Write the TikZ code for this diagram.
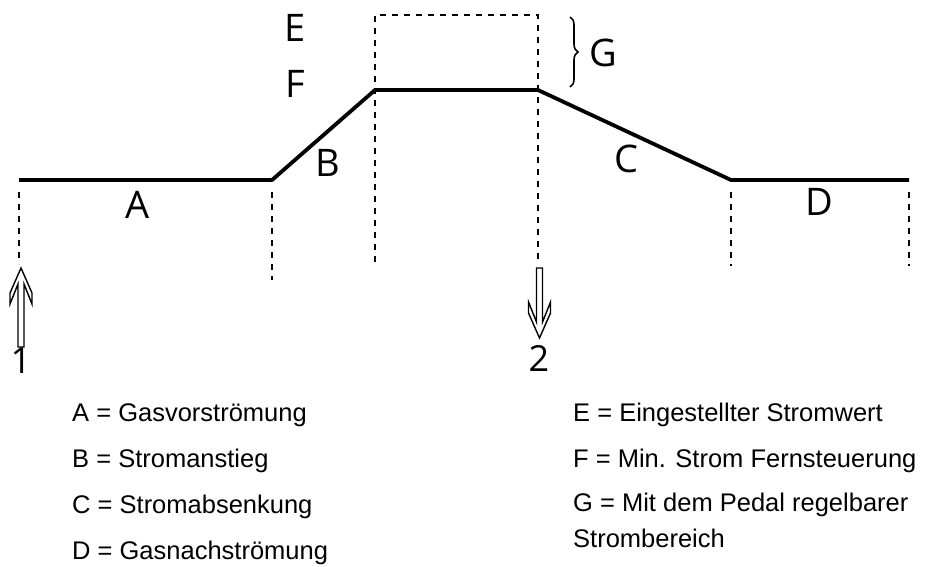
\documentclass[tikz,border=0pt]{standalone}
\usepackage{fontspec}
\setmainfont{Open Sans}
\newfontfamily\legfont{Liberation Sans}
\usetikzlibrary{decorations.pathreplacing}
\tikzset{
  curve/.style={line width=3.8pt, line join=round},
  guide/.style={line width=1.7pt, dash pattern=on 6pt off 6pt},
  lbl/.style={font=\fontsize{38}{40}\selectfont, inner sep=0pt},
  num/.style={font=\fontsize{36}{38}\selectfont, inner sep=0pt},
  leg/.style={font=\legfont\fontsize{25.5}{28}\selectfont, inner sep=0pt, anchor=base west},
  trig/.style={line width=1.4pt, line join=miter},
}
\begin{document}
\begin{tikzpicture}[x=1pt,y=-1pt]
\useasboundingbox (0,0) rectangle (927,566);
% key points of the current curve
\coordinate (p0) at (19,180);
\coordinate (p1) at (272,180);
\coordinate (p2) at (375,90);
\coordinate (p3) at (538,90);
\coordinate (p4) at (731,180);
\coordinate (p5) at (909,180);
% guide line ends
\coordinate (g0) at (19,264);
\coordinate (g1) at (272,280);
\coordinate (t2) at (375,15);
\coordinate (g2) at (375,262);
\coordinate (t3) at (538,15);
\coordinate (g3) at (538,262);
\coordinate (g4) at (731,266);
\coordinate (g5) at (909,266);
% dashed guides
\draw[guide] (p0) ++(0,12) -- (g0);
\draw[guide] (p1) ++(0,12) -- (g1);
\draw[guide] (g2) -- (t2) -- (t3) -- (g3);
\draw[guide] (p4) ++(0,12) -- (g4);
\draw[guide] (p5) ++(0,12) -- (g5);
% curve
\draw[curve] (p0) -- (p1) -- (p2) -- (p3) -- (p4) -- (p5);
% brace
\coordinate (b1) at (570,17);
\coordinate (b2) at (570,87);
\draw[line width=1.6pt, decorate, decoration={brace, amplitude=8pt}] (b1) -- (b2);
% labels
\node[lbl] (E) at (295,28) {E};
\node[lbl] (F) at (295,84) {F};
\node[lbl] (A) at (138,205) {A};
\node[lbl] (B) at (328,163) {B};
\node[lbl] (C) at (626,159) {C};
\node[lbl] (D) at (819,202) {D};
\node[lbl] (G) at (603,53) {G};
% trigger arrows
\draw[trig] (21,268) -- (10,293) -- (10,304) -- (18,284) -- (18,347) -- (24,347) -- (24,284) -- (32,304) -- (32,293) -- cycle;
\draw[trig] (539.5,338) -- (528.5,313) -- (528.5,302) -- (536.5,322) -- (536.5,268) -- (542.5,268) -- (542.5,322) -- (550.5,302) -- (550.5,313) -- cycle;
\node[num] (n1) at (21,361) {1};
\node[num] (n2) at (539,358) {2};
% legend
\node[leg] (la) at (72,421) {A = Gasvorströmung};
\node[leg] (lb) at (72,467) {B = Stromanstieg};
\node[leg] (lc) at (72,513) {C = Stromabsenkung};
\node[leg] (ld) at (72,559) {D = Gasnachströmung};
\node[leg] (le) at (573,421) {E = Eingestellter Stromwert};
\node[leg] (lf) at (573,467) {F = Min. Strom Fernsteuerung};
\node[leg] (lg) at (573,511) {G = Mit dem Pedal regelbarer};
\node[leg] (lg2) at (573,547) {Strombereich};
\end{tikzpicture}
\end{document}
